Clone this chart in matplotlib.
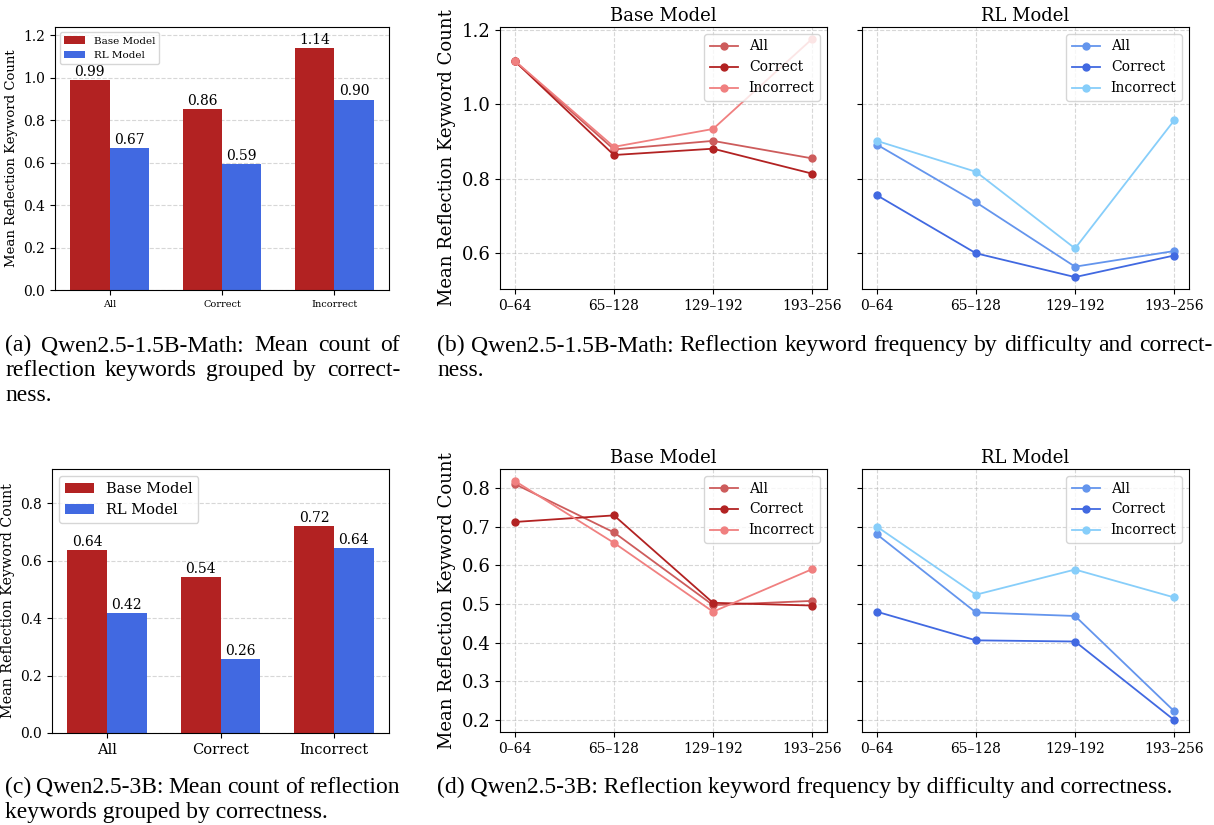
import numpy as np
import matplotlib
matplotlib.use("Agg")
import matplotlib.pyplot as plt

plt.rcParams['font.family'] = 'DejaVu Serif'

W, H = 1214, 825

# ---- data ----
groups = ['All', 'Correct', 'Incorrect']
bins = ['0–64', '65–128', '129–192', '193–256']

# (a) Qwen2.5-1.5B-Math bar chart
a_base = [0.99, 0.86, 1.14]
a_rl = [0.67, 0.59, 0.90]
a_base_h = [0.992, 0.855, 1.139]
a_rl_h = [0.671, 0.595, 0.898]

# (c) Qwen2.5-3B bar chart
c_base = [0.64, 0.54, 0.72]
c_rl = [0.42, 0.26, 0.64]
c_base_h = [0.637, 0.543, 0.721]
c_rl_h = [0.417, 0.257, 0.644]

# (b) Qwen2.5-1.5B-Math by difficulty
b_base_all = [1.116, 0.879, 0.902, 0.855]
b_base_cor = [1.116, 0.864, 0.881, 0.814]
b_base_inc = [1.117, 0.886, 0.934, 1.176]
b_rl_all = [0.892, 0.737, 0.564, 0.606]
b_rl_cor = [0.756, 0.600, 0.536, 0.594]
b_rl_inc = [0.902, 0.819, 0.613, 0.957]

# (d) Qwen2.5-3B by difficulty
d_base_all = [0.810, 0.685, 0.497, 0.508]
d_base_cor = [0.712, 0.729, 0.503, 0.496]
d_base_inc = [0.818, 0.658, 0.480, 0.590]
d_rl_all = [0.680, 0.478, 0.469, 0.223]
d_rl_cor = [0.480, 0.406, 0.403, 0.200]
d_rl_inc = [0.700, 0.524, 0.589, 0.517]

base_colors = ['#cd5c5c', '#b22222', '#f08080']
rl_colors = ['#6495ed', '#4169e1', '#87cefa']


def px(l, t, r, b):
    return [l / W, 1 - b / H, (r - l) / W, (b - t) / H]


fig = plt.figure(figsize=(W / 100, H / 100), dpi=100)


def bar_panel(rect, base_h, rl_h, base_lbl, rl_lbl, top, xfs, yfs, labfs, legfs, valfs):
    ax = fig.add_axes(px(*rect))
    x = np.arange(len(groups))
    w = 0.35
    ax.bar(x - w / 2, base_h, w, color='#b22222', label='Base Model')
    ax.bar(x + w / 2, rl_h, w, color='#4169e1', label='RL Model')
    for xi, h, s in zip(x, base_h, base_lbl):
        ax.text(xi - w / 2, h + 0.005, f'{s:.2f}', ha='center', va='bottom', fontsize=valfs)
    for xi, h, s in zip(x, rl_h, rl_lbl):
        ax.text(xi + w / 2, h + 0.005, f'{s:.2f}', ha='center', va='bottom', fontsize=valfs)
    ax.set_xticks(x)
    ax.set_xticklabels(groups, fontsize=xfs)
    ax.tick_params(axis='y', labelsize=yfs)
    ax.set_ylim(0, top)
    ax.set_ylabel('Mean Reflection Keyword Count', fontsize=labfs)
    ax.yaxis.grid(True, linestyle='--', alpha=0.5)
    ax.set_axisbelow(True)
    ax.legend(loc='upper left', fontsize=legfs)
    return ax


bar_panel((55, 27, 389, 290), a_base_h, a_rl_h, a_base, a_rl, 1.24, 7, 10, 9.5, 7.5, 10)
bar_panel((52, 469, 389, 733), c_base_h, c_rl_h, c_base, c_rl, 0.92, 10.5, 10, 10.3, 10.5, 10)


def line_panels(top, bottom, base_series, rl_series):
    ax1 = fig.add_axes(px(500, top, 827, bottom))
    ax2 = fig.add_axes(px(862, top, 1189, bottom), sharey=ax1)
    x = np.arange(len(bins))
    for ax, series, cols, title in [(ax1, base_series, base_colors, 'Base Model'),
                                    (ax2, rl_series, rl_colors, 'RL Model')]:
        for ys, c, name in zip(series, cols, groups):
            ax.plot(x, ys, marker='o', color=c, label=name, linewidth=1.3, markersize=5)
        ax.set_title(title, fontsize=13, pad=4)
        ax.set_xticks(x)
        ax.set_xticklabels(bins, fontsize=10)
        ax.grid(True, linestyle='--', alpha=0.5)
        ax.legend(loc='upper right', fontsize=10)
    ax1.tick_params(axis='y', labelsize=13)
    ax1.set_ylabel('Mean Reflection Keyword Count', fontsize=13)
    ax2.tick_params(axis='y', labelleft=False)
    return ax1, ax2


line_panels(27, 289, [b_base_all, b_base_cor, b_base_inc], [b_rl_all, b_rl_cor, b_rl_inc])
line_panels(469, 732, [d_base_all, d_base_cor, d_base_inc], [d_rl_all, d_rl_cor, d_rl_inc])

# ---- captions ----
renderer = fig.canvas.get_renderer()


def caption(x0, y, s, fs, width=None):
    # y is baseline in pixels from top; width given -> justify the line
    yf = 1 - y / H
    if width is None:
        fig.text(x0 / W, yf, s, fontsize=fs, family='Liberation Serif', va='baseline')
        return
    words = s.split(' ')
    items = [fig.text(0, yf, wd, fontsize=fs, family='Liberation Serif', va='baseline') for wd in words]
    widths = [t.get_window_extent(renderer).width for t in items]
    gap = (width - sum(widths)) / (len(words) - 1)
    xc = x0
    for t, wd in zip(items, widths):
        t.set_x(xc / W)
        xc += wd + gap


fs = 17
caption(5, 351, '(a) Qwen2.5-1.5B-Math: Mean count of', fs, 395)
caption(5, 376, 'reflection keywords grouped by correct-', fs, 395)
caption(5, 401, 'ness.', fs)
caption(5, 793, '(c) Qwen2.5-3B: Mean count of reflection', fs, 395)
caption(5, 818, 'keywords grouped by correctness.', fs)

caption(437, 351, '(b) Qwen2.5-1.5B-Math: Reflection keyword frequency by difficulty and correct-', fs, 775)
caption(437, 376, 'ness.', fs)
caption(437, 793, '(d) Qwen2.5-3B: Reflection keyword frequency by difficulty and correctness.', fs)

fig.savefig('out.png', dpi=100)
